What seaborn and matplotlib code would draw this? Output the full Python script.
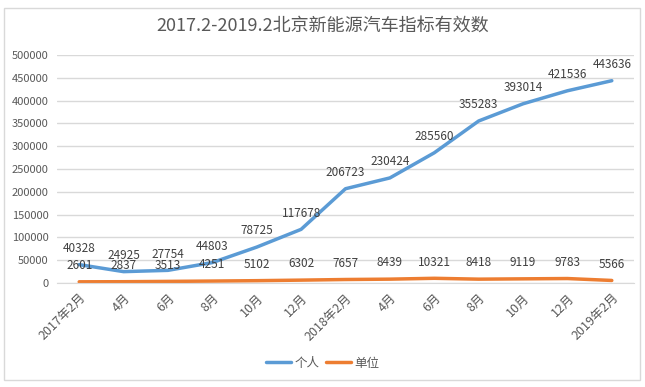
import seaborn as sns
import matplotlib.pyplot as plt
import pandas as pd
from matplotlib.patches import Rectangle

# data
months = ['2017年2月', '4月', '6月', '8月', '10月', '12月', '2018年2月',
          '4月', '6月', '8月', '10月', '12月', '2019年2月']
personal = [40328, 24925, 27754, 44803, 78725, 117678, 206723,
            230424, 285560, 355283, 393014, 421536, 443636]
company = [2601, 2837, 3513, 4251, 5102, 6302, 7657,
           8439, 10321, 8418, 9119, 9783, 5566]

sns.set_style('white')
plt.rcParams['font.family'] = ['Noto Sans CJK SC', 'DejaVu Sans']

df = pd.DataFrame({'idx': list(range(len(months))) * 2,
                   'value': personal + company,
                   'series': ['个人'] * len(months) + ['单位'] * len(months)})

fig = plt.figure(figsize=(6.45, 3.87), dpi=100)
# chart frame like excel
fig.patches.append(Rectangle((4 / 645, 1 - 380 / 387), 636 / 645, 372 / 387,
                             transform=fig.transFigure, fill=False,
                             edgecolor='#d9d9d9', lw=1))
ax = fig.add_axes([57 / 645, 1 - 283 / 387, 577 / 645, 228 / 387])

pal = {'个人': '#5B9BD5', '单位': '#ED7D31'}
sns.lineplot(data=df, x='idx', y='value', hue='series', palette=pal,
             lw=2.5, ax=ax, legend=False)

ax.set_xlim(-0.5, 12.5)
ax.set_ylim(0, 500000)
ax.set_yticks(range(0, 500001, 50000))
ax.tick_params(axis='y', labelsize=8, colors='#595959', length=0, pad=6)
ax.set_xticks(range(len(months)))
ax.set_xticklabels(months, rotation=45, ha='right', rotation_mode='anchor',
                   fontsize=9, color='#595959')
ax.tick_params(axis='x', length=0, pad=6)
ax.grid(axis='y', color='#d9d9d9', lw=1)
for s in ['top', 'right', 'left']:
    ax.spines[s].set_visible(False)
ax.spines['bottom'].set_color('#d9d9d9')
ax.set_xlabel('')
ax.set_ylabel('')

for i, v in enumerate(personal):
    ax.annotate(str(v), (i, v), xytext=(0, 7), textcoords='offset points',
                ha='center', va='bottom', fontsize=8.5, color='#404040')
for i, v in enumerate(company):
    ax.annotate(str(v), (i, v), xytext=(0, 7), textcoords='offset points',
                ha='center', va='bottom', fontsize=8.5, color='#404040')

fig.text(0.5, 1 - 26 / 387, '2017.2-2019.2北京新能源汽车指标有效数',
         ha='center', va='center', fontsize=13, color='#595959')

handles = [plt.Line2D([], [], color=pal[k], lw=2.5) for k in pal]
fig.legend(handles, list(pal), loc='center', bbox_to_anchor=(0.5, 1 - 363 / 387),
           ncol=2, frameon=False, fontsize=9, handlelength=2, columnspacing=0.5,
           handletextpad=0.3, labelcolor='#595959')

fig.savefig('out.png', dpi=100)
